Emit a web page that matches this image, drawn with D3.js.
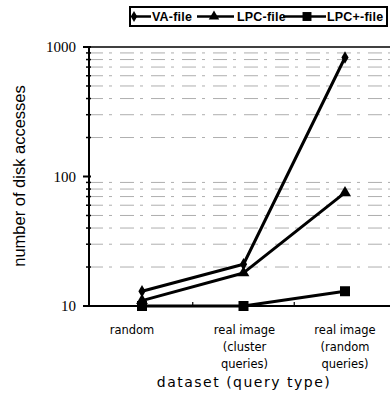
<!DOCTYPE html>
<html>
<head>
<meta charset="utf-8">
<script src="https://cdn.jsdelivr.net/npm/d3@7"></script>
<style>
  body { margin: 0; background: #fff; }
  svg { display: block; }
</style>
</head>
<body>
<div id="chart"></div>
<script>
// data
const categories = [['random'], ['real image', '(cluster', 'queries)'], ['real image', '(random', 'queries)']];
const seriesNames = ['VA-file', 'LPC-file', 'LPC+-file'];
const vaFile = [13, 21, 830];
const lpcFile = [11, 18, 75];
const lpcPlusFile = [10, 10, 13];
const yTicks = [10, 100, 1000];

const W = 390, H = 396;
const plot = { left: 89, right: 390, top: 47, bottom: 306 };

const svg = d3.select('#chart').append('svg').attr('width', W).attr('height', H);

const x = d3.scalePoint().domain(d3.range(categories.length))
  .range([142, 345]);
const y = d3.scaleLog().domain([10, 1000]).range([plot.bottom, plot.top]);

// minor grid lines (faint dashed)
const minors = [];
for (const d of [10, 100]) for (let k = 2; k <= 9; k++) minors.push(d * k);
svg.append('g').selectAll('line').data(minors).join('line')
  .attr('x1', plot.left).attr('x2', plot.right)
  .attr('y1', d => y(d)).attr('y2', d => y(d))
  .attr('stroke', '#999').attr('stroke-width', 0.8)
  .attr('stroke-dasharray', '14,6,3,8');

// y axis
const yAxis = svg.append('g').attr('transform', `translate(${plot.left},0)`);
yAxis.append('line').attr('y1', plot.top).attr('y2', plot.bottom + 1)
  .attr('stroke', '#000').attr('stroke-width', 2);
yAxis.selectAll('.minor').data(minors).join('line')
  .attr('x1', -3).attr('x2', 2).attr('y1', d => y(d)).attr('y2', d => y(d))
  .attr('stroke', '#000').attr('stroke-width', 1.5);
yAxis.selectAll('.major').data(yTicks).join('line')
  .attr('x1', -6).attr('x2', 2).attr('y1', d => y(d)).attr('y2', d => y(d))
  .attr('stroke', '#000').attr('stroke-width', 2);
yAxis.selectAll('text').data(yTicks).join('text')
  .attr('x', -13).attr('y', d => y(d)).attr('dy', '0.35em')
  .attr('text-anchor', 'end')
  .attr('font-family', 'Liberation Serif, Times New Roman, serif')
  .attr('font-size', 15)
  .text(d => d);

// top and bottom frame lines
svg.append('line').attr('x1', plot.left).attr('x2', plot.right)
  .attr('y1', plot.top).attr('y2', plot.top).attr('stroke', '#000').attr('stroke-width', 1.5);
svg.append('line').attr('x1', plot.left).attr('x2', plot.right)
  .attr('y1', plot.bottom).attr('y2', plot.bottom).attr('stroke', '#000').attr('stroke-width', 2);
svg.append('g').selectAll('line').data([0.5, 1.5]).join('line')
  .attr('x1', d => (x(Math.floor(d)) + x(Math.ceil(d))) / 2)
  .attr('x2', d => (x(Math.floor(d)) + x(Math.ceil(d))) / 2)
  .attr('y1', plot.bottom).attr('y2', plot.bottom - 4)
  .attr('stroke', '#000').attr('stroke-width', 1.2);

// x labels
const labelShift = [-10, 1, 0];
const xl = svg.append('g').attr('font-family', 'DejaVu Sans, sans-serif').attr('font-size', 11.5);
categories.forEach((lines, i) => {
  lines.forEach((t, j) => {
    xl.append('text').attr('x', x(i) + labelShift[i]).attr('y', 334 + j * 17)
      .attr('text-anchor', 'middle').text(t);
  });
});
svg.append('text').attr('x', 244).attr('y', 387).attr('text-anchor', 'middle')
  .attr('font-family', 'DejaVu Sans, sans-serif').attr('font-size', 14)
  .attr('letter-spacing', 1.5).text('dataset (query type)');
svg.append('text').attr('transform', 'translate(25,176) rotate(-90)')
  .attr('text-anchor', 'middle')
  .attr('font-family', 'Liberation Sans, Arial, sans-serif').attr('font-size', 16.5)
  .text('number of disk accesses');

// series
const series = [vaFile, lpcFile, lpcPlusFile];
const markers = [d3.symbolDiamond, d3.symbolTriangle, d3.symbolSquare];
const markerSize = [45, 60, 100];
const line = d3.line().x((d, i) => x(i)).y(d => y(d));
const g = svg.append('g');
series.forEach((vals, s) => {
  g.append('path').attr('d', line(vals)).attr('fill', 'none')
    .attr('stroke', '#000').attr('stroke-width', 3).attr('stroke-linejoin', 'round');
  g.selectAll(null).data(vals).join('path')
    .attr('transform', (d, i) => `translate(${x(i)},${y(d)})`)
    .attr('d', d3.symbol(markers[s], markerSize[s]))
    .attr('fill', '#000');
});

// legend
const leg = svg.append('g');
leg.append('rect').attr('x', 130).attr('y', 7).attr('width', 257).attr('height', 19)
  .attr('fill', '#fff').attr('stroke', '#000').attr('stroke-width', 2);
const legLine = [[133, 151], [197, 234], [283, 326]];
const legMark = [134, 214, 307];
const legText = [152, 237, 327];
seriesNames.forEach((name, s) => {
  leg.append('line').attr('x1', legLine[s][0]).attr('x2', legLine[s][1])
    .attr('y1', 16.5).attr('y2', 16.5)
    .attr('stroke', '#000').attr('stroke-width', 2.5);
  leg.append('path').attr('transform', `translate(${legMark[s]},16.5)`)
    .attr('d', d3.symbol(markers[s], markerSize[s] * 0.8)).attr('fill', '#000');
  leg.append('text').attr('x', legText[s]).attr('y', 16.5).attr('dy', '0.36em')
    .attr('font-family', 'Liberation Sans, Arial, sans-serif').attr('font-size', 12.5)
    .attr('font-weight', 'bold').attr('letter-spacing', 0.2)
    .text(name);
});
</script>
</body>
</html>
